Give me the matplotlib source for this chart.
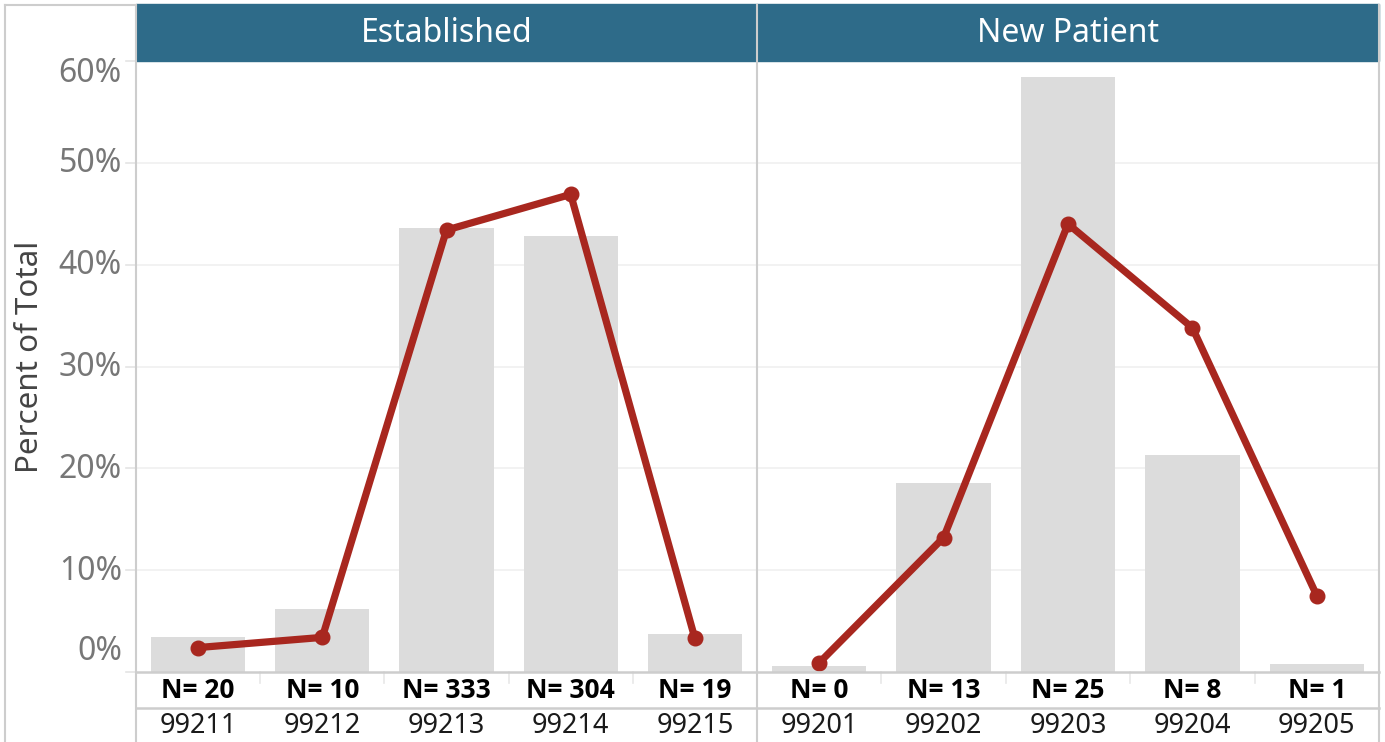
import matplotlib.pyplot as plt
from matplotlib.lines import Line2D
from matplotlib.patches import Rectangle

plt.rcParams["font.family"] = ["Noto Sans", "DejaVu Sans"]
BOLD_FAMILY = ["Open Sans", "Lato", "DejaVu Sans"]

W, H = 1385, 742

# visit level distribution per patient type
est_codes = ["99211", "99212", "99213", "99214", "99215"]
est_counts = [20, 10, 333, 304, 19]
est_bar = [0.034, 0.062, 0.436, 0.428, 0.037]
est_line = [0.024, 0.034, 0.434, 0.469, 0.033]

new_codes = ["99201", "99202", "99203", "99204", "99205"]
new_counts = [0, 13, 25, 8, 1]
new_bar = [0.006, 0.186, 0.584, 0.213, 0.008]
new_line = [0.009, 0.132, 0.440, 0.338, 0.075]

y_ticks = [0.0, 0.1, 0.2, 0.3, 0.4, 0.5, 0.6]

HEADER = "#2E6B89"
BAR = "#DCDCDC"
LINE = "#A8271F"
GRID = "#F0F0F0"
RULE = "#CDCDCD"


def box(x0, y0, x1, y1):
    return [x0 / W, 1 - y1 / H, (x1 - x0) / W, (y1 - y0) / H]


def fig_line(fig, x0, y0, x1, y1, color=RULE, lw=1.5):
    fig.add_artist(Line2D([x0 / W, x1 / W], [1 - y0 / H, 1 - y1 / H],
                          transform=fig.transFigure, color=color, lw=lw))


fig = plt.figure(figsize=(W / 100, H / 100), dpi=100)

panels = [
    ("Established", est_codes, est_counts, est_bar, est_line, (136, 757)),
    ("New Patient", new_codes, new_counts, new_bar, new_line, (757, 1379)),
]

top, bottom = 61, 672
for title, codes, counts, bars, line, (x0, x1) in panels:
    ax = fig.add_axes(box(x0, top, x1, bottom))
    xs = range(len(codes))
    for v in y_ticks[1:-1]:
        ax.axhline(v, color=GRID, lw=1.2, zorder=0)
    ax.bar(xs, bars, width=0.76, color=BAR, zorder=1)
    ax.plot(xs, line, color=LINE, lw=5.2, marker="o", ms=10.5,
            solid_capstyle="round", zorder=3)
    ax.set_xlim(-0.5, len(codes) - 0.5)
    ax.set_ylim(0, 0.6)
    ax.set_xticks([])
    ax.set_yticks([])
    for s in ax.spines.values():
        s.set_visible(False)

    xt = ax.get_xaxis_transform()
    for i, (code, n) in enumerate(zip(codes, counts)):
        ax.text(i, -(691 - bottom) / (bottom - top), f"N= {n}", transform=xt,
                ha="center", va="center", fontsize=19, fontweight="bold",
                family=BOLD_FAMILY, color="black")
        ax.text(i, -(726 - bottom) / (bottom - top), code, transform=xt,
                ha="center", va="center", fontsize=19.5, color="#1A1A1A")
    for i in range(1, len(codes)):
        ax.plot([i - 0.5, i - 0.5], [0, -11 / (bottom - top)], transform=xt,
                color="#E8E8E8", lw=1.2, clip_on=False)

    # facet header
    fig.patches.append(Rectangle((x0 / W, 1 - top / H), (x1 - x0) / W,
                                 (top - 4) / H, transform=fig.transFigure,
                                 color=HEADER, zorder=0))
    fig.text((x0 + x1) / 2 / W, 1 - 33 / H, title, ha="center", va="center",
             fontsize=23, color="white")

    if x0 == 136:
        yt = ax.get_yaxis_transform()
        for v in y_ticks:
            dy = -12 if v == y_ticks[-1] else (20 if v == 0 else -1)
            ax.annotate(f"{v:.0%}", xy=(0, v), xycoords=yt,
                        xytext=(-14, dy), textcoords="offset pixels",
                        ha="right", va="center", fontsize=23, color="#777777")
            ax.plot([-10 / (x1 - x0), 0], [v, v], transform=yt,
                    color="#E4E4E4", lw=1.2, clip_on=False)

# frame and table rules
fig_line(fig, 5, 5, 5, 742)
fig_line(fig, 5, 5, 136, 5)
fig_line(fig, 136, 5, 136, 742)
fig_line(fig, 757, 5, 757, 742)
fig_line(fig, 1379, 5, 1379, 742)
fig_line(fig, 136, 672, 1379, 672, lw=1.8)
fig_line(fig, 136, 708, 1379, 708, lw=1.8)

fig.text(30 / W, 1 - 357 / H, "Percent of Total", rotation=90,
         ha="center", va="center", fontsize=22.5, color="#444444")

fig.savefig("out.png", dpi=100)
